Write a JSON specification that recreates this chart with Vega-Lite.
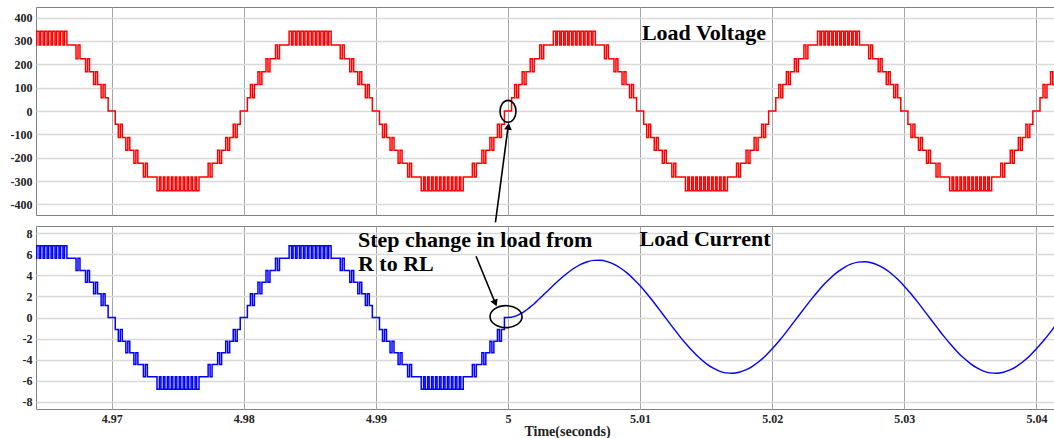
{
"$schema": "https://vega.github.io/schema/vega-lite/v6.json",
"background": "white",
"padding": {"left": 5, "top": 6, "right": 0, "bottom": 0},
"spacing": 11,
"bounds": "flush",
"config": {"view": {"stroke": "#808080", "strokeWidth": 1}, "font": "Liberation Serif"},
"datasets": {
"V": [
{"t":4.96403,"v":341},{"t":4.96421,"v":282},{"t":4.96433,"v":341},{"t":4.96451,"v":282},{"t":4.96463,"v":341},{"t":4.96481,"v":282},{"t":4.96493,"v":341},{"t":4.96511,"v":282},{"t":4.96523,"v":341},{"t":4.96541,"v":282},{"t":4.96553,"v":341},{"t":4.96571,"v":282},{"t":4.96583,"v":341},{"t":4.96601,"v":282},{"t":4.96613,"v":341},{"t":4.96631,"v":282},{"t":4.96643,"v":341},{"t":4.96661,"v":282},{"t":4.9673,"v":224},{"t":4.96745,"v":282},{"t":4.9676,"v":224},{"t":4.96802,"v":168},{"t":4.96817,"v":224},{"t":4.96832,"v":168},{"t":4.96863,"v":113},{"t":4.96878,"v":168},{"t":4.96893,"v":113},{"t":4.9692,"v":57},{"t":4.96935,"v":113},{"t":4.9695,"v":57},{"t":4.96973,"v":0},
{"t":4.97027,"v":-57},{"t":4.9705,"v":-113},{"t":4.97065,"v":-57},{"t":4.9708,"v":-113},{"t":4.97107,"v":-168},{"t":4.97122,"v":-113},{"t":4.97137,"v":-168},{"t":4.97168,"v":-224},{"t":4.97183,"v":-168},{"t":4.97198,"v":-224},{"t":4.9724,"v":-282},{"t":4.97255,"v":-224},{"t":4.9727,"v":-282},{"t":4.97343,"v":-341},{"t":4.97361,"v":-282},{"t":4.97373,"v":-341},{"t":4.97391,"v":-282},{"t":4.97403,"v":-341},{"t":4.97421,"v":-282},{"t":4.97433,"v":-341},{"t":4.97451,"v":-282},{"t":4.97463,"v":-341},{"t":4.97481,"v":-282},{"t":4.97493,"v":-341},{"t":4.97511,"v":-282},{"t":4.97523,"v":-341},{"t":4.97541,"v":-282},{"t":4.97553,"v":-341},{"t":4.97571,"v":-282},{"t":4.97583,"v":-341},{"t":4.97601,"v":-282},{"t":4.97613,"v":-341},{"t":4.97631,"v":-282},{"t":4.97643,"v":-341},{"t":4.97661,"v":-282},{"t":4.9773,"v":-224},{"t":4.97745,"v":-282},{"t":4.9776,"v":-224},{"t":4.97802,"v":-168},{"t":4.97817,"v":-224},{"t":4.97832,"v":-168},{"t":4.97863,"v":-113},{"t":4.97878,"v":-168},{"t":4.97893,"v":-113},{"t":4.9792,"v":-57},{"t":4.97935,"v":-113},{"t":4.9795,"v":-57},{"t":4.97973,"v":0},
{"t":4.98027,"v":57},{"t":4.9805,"v":113},{"t":4.98065,"v":57},{"t":4.9808,"v":113},{"t":4.98107,"v":168},{"t":4.98122,"v":113},{"t":4.98137,"v":168},{"t":4.98168,"v":224},{"t":4.98183,"v":168},{"t":4.98198,"v":224},{"t":4.9824,"v":282},{"t":4.98255,"v":224},{"t":4.9827,"v":282},{"t":4.98343,"v":341},{"t":4.98361,"v":282},{"t":4.98373,"v":341},{"t":4.98391,"v":282},{"t":4.98403,"v":341},{"t":4.98421,"v":282},{"t":4.98433,"v":341},{"t":4.98451,"v":282},{"t":4.98463,"v":341},{"t":4.98481,"v":282},{"t":4.98493,"v":341},{"t":4.98511,"v":282},{"t":4.98523,"v":341},{"t":4.98541,"v":282},{"t":4.98553,"v":341},{"t":4.98571,"v":282},{"t":4.98583,"v":341},{"t":4.98601,"v":282},{"t":4.98613,"v":341},{"t":4.98631,"v":282},{"t":4.98643,"v":341},{"t":4.98661,"v":282},{"t":4.9873,"v":224},{"t":4.98745,"v":282},{"t":4.9876,"v":224},{"t":4.98802,"v":168},{"t":4.98817,"v":224},{"t":4.98832,"v":168},{"t":4.98863,"v":113},{"t":4.98878,"v":168},{"t":4.98893,"v":113},{"t":4.9892,"v":57},{"t":4.98935,"v":113},{"t":4.9895,"v":57},{"t":4.98973,"v":0},
{"t":4.99027,"v":-57},{"t":4.9905,"v":-113},{"t":4.99065,"v":-57},{"t":4.9908,"v":-113},{"t":4.99107,"v":-168},{"t":4.99122,"v":-113},{"t":4.99137,"v":-168},{"t":4.99168,"v":-224},{"t":4.99183,"v":-168},{"t":4.99198,"v":-224},{"t":4.9924,"v":-282},{"t":4.99255,"v":-224},{"t":4.9927,"v":-282},{"t":4.99343,"v":-341},{"t":4.99361,"v":-282},{"t":4.99373,"v":-341},{"t":4.99391,"v":-282},{"t":4.99403,"v":-341},{"t":4.99421,"v":-282},{"t":4.99433,"v":-341},{"t":4.99451,"v":-282},{"t":4.99463,"v":-341},{"t":4.99481,"v":-282},{"t":4.99493,"v":-341},{"t":4.99511,"v":-282},{"t":4.99523,"v":-341},{"t":4.99541,"v":-282},{"t":4.99553,"v":-341},{"t":4.99571,"v":-282},{"t":4.99583,"v":-341},{"t":4.99601,"v":-282},{"t":4.99613,"v":-341},{"t":4.99631,"v":-282},{"t":4.99643,"v":-341},{"t":4.99661,"v":-282},{"t":4.9973,"v":-224},{"t":4.99745,"v":-282},{"t":4.9976,"v":-224},{"t":4.99802,"v":-168},{"t":4.99817,"v":-224},{"t":4.99832,"v":-168},{"t":4.99863,"v":-113},{"t":4.99878,"v":-168},{"t":4.99893,"v":-113},{"t":4.9992,"v":-57},{"t":4.99935,"v":-113},{"t":4.9995,"v":-57},{"t":4.99973,"v":0},
{"t":5.00027,"v":57},{"t":5.0005,"v":113},{"t":5.00065,"v":57},{"t":5.0008,"v":113},{"t":5.00107,"v":168},{"t":5.00122,"v":113},{"t":5.00137,"v":168},{"t":5.00168,"v":224},{"t":5.00183,"v":168},{"t":5.00198,"v":224},{"t":5.0024,"v":282},{"t":5.00255,"v":224},{"t":5.0027,"v":282},{"t":5.00343,"v":341},{"t":5.00361,"v":282},{"t":5.00373,"v":341},{"t":5.00391,"v":282},{"t":5.00403,"v":341},{"t":5.00421,"v":282},{"t":5.00433,"v":341},{"t":5.00451,"v":282},{"t":5.00463,"v":341},{"t":5.00481,"v":282},{"t":5.00493,"v":341},{"t":5.00511,"v":282},{"t":5.00523,"v":341},{"t":5.00541,"v":282},{"t":5.00553,"v":341},{"t":5.00571,"v":282},{"t":5.00583,"v":341},{"t":5.00601,"v":282},{"t":5.00613,"v":341},{"t":5.00631,"v":282},{"t":5.00643,"v":341},{"t":5.00661,"v":282},{"t":5.0073,"v":224},{"t":5.00745,"v":282},{"t":5.0076,"v":224},{"t":5.00802,"v":168},{"t":5.00817,"v":224},{"t":5.00832,"v":168},{"t":5.00863,"v":113},{"t":5.00878,"v":168},{"t":5.00893,"v":113},{"t":5.0092,"v":57},{"t":5.00935,"v":113},{"t":5.0095,"v":57},{"t":5.00973,"v":0},
{"t":5.01027,"v":-57},{"t":5.0105,"v":-113},{"t":5.01065,"v":-57},{"t":5.0108,"v":-113},{"t":5.01107,"v":-168},{"t":5.01122,"v":-113},{"t":5.01137,"v":-168},{"t":5.01168,"v":-224},{"t":5.01183,"v":-168},{"t":5.01198,"v":-224},{"t":5.0124,"v":-282},{"t":5.01255,"v":-224},{"t":5.0127,"v":-282},{"t":5.01343,"v":-341},{"t":5.01361,"v":-282},{"t":5.01373,"v":-341},{"t":5.01391,"v":-282},{"t":5.01403,"v":-341},{"t":5.01421,"v":-282},{"t":5.01433,"v":-341},{"t":5.01451,"v":-282},{"t":5.01463,"v":-341},{"t":5.01481,"v":-282},{"t":5.01493,"v":-341},{"t":5.01511,"v":-282},{"t":5.01523,"v":-341},{"t":5.01541,"v":-282},{"t":5.01553,"v":-341},{"t":5.01571,"v":-282},{"t":5.01583,"v":-341},{"t":5.01601,"v":-282},{"t":5.01613,"v":-341},{"t":5.01631,"v":-282},{"t":5.01643,"v":-341},{"t":5.01661,"v":-282},{"t":5.0173,"v":-224},{"t":5.01745,"v":-282},{"t":5.0176,"v":-224},{"t":5.01802,"v":-168},{"t":5.01817,"v":-224},{"t":5.01832,"v":-168},{"t":5.01863,"v":-113},{"t":5.01878,"v":-168},{"t":5.01893,"v":-113},{"t":5.0192,"v":-57},{"t":5.01935,"v":-113},{"t":5.0195,"v":-57},{"t":5.01973,"v":0},
{"t":5.02027,"v":57},{"t":5.0205,"v":113},{"t":5.02065,"v":57},{"t":5.0208,"v":113},{"t":5.02107,"v":168},{"t":5.02122,"v":113},{"t":5.02137,"v":168},{"t":5.02168,"v":224},{"t":5.02183,"v":168},{"t":5.02198,"v":224},{"t":5.0224,"v":282},{"t":5.02255,"v":224},{"t":5.0227,"v":282},{"t":5.02343,"v":341},{"t":5.02361,"v":282},{"t":5.02373,"v":341},{"t":5.02391,"v":282},{"t":5.02403,"v":341},{"t":5.02421,"v":282},{"t":5.02433,"v":341},{"t":5.02451,"v":282},{"t":5.02463,"v":341},{"t":5.02481,"v":282},{"t":5.02493,"v":341},{"t":5.02511,"v":282},{"t":5.02523,"v":341},{"t":5.02541,"v":282},{"t":5.02553,"v":341},{"t":5.02571,"v":282},{"t":5.02583,"v":341},{"t":5.02601,"v":282},{"t":5.02613,"v":341},{"t":5.02631,"v":282},{"t":5.02643,"v":341},{"t":5.02661,"v":282},{"t":5.0273,"v":224},{"t":5.02745,"v":282},{"t":5.0276,"v":224},{"t":5.02802,"v":168},{"t":5.02817,"v":224},{"t":5.02832,"v":168},{"t":5.02863,"v":113},{"t":5.02878,"v":168},{"t":5.02893,"v":113},{"t":5.0292,"v":57},{"t":5.02935,"v":113},{"t":5.0295,"v":57},{"t":5.02973,"v":0},
{"t":5.03027,"v":-57},{"t":5.0305,"v":-113},{"t":5.03065,"v":-57},{"t":5.0308,"v":-113},{"t":5.03107,"v":-168},{"t":5.03122,"v":-113},{"t":5.03137,"v":-168},{"t":5.03168,"v":-224},{"t":5.03183,"v":-168},{"t":5.03198,"v":-224},{"t":5.0324,"v":-282},{"t":5.03255,"v":-224},{"t":5.0327,"v":-282},{"t":5.03343,"v":-341},{"t":5.03361,"v":-282},{"t":5.03373,"v":-341},{"t":5.03391,"v":-282},{"t":5.03403,"v":-341},{"t":5.03421,"v":-282},{"t":5.03433,"v":-341},{"t":5.03451,"v":-282},{"t":5.03463,"v":-341},{"t":5.03481,"v":-282},{"t":5.03493,"v":-341},{"t":5.03511,"v":-282},{"t":5.03523,"v":-341},{"t":5.03541,"v":-282},{"t":5.03553,"v":-341},{"t":5.03571,"v":-282},{"t":5.03583,"v":-341},{"t":5.03601,"v":-282},{"t":5.03613,"v":-341},{"t":5.03631,"v":-282},{"t":5.03643,"v":-341},{"t":5.03661,"v":-282},{"t":5.0373,"v":-224},{"t":5.03745,"v":-282},{"t":5.0376,"v":-224},{"t":5.03802,"v":-168},{"t":5.03817,"v":-224},{"t":5.03832,"v":-168},{"t":5.03863,"v":-113},{"t":5.03878,"v":-168},{"t":5.03893,"v":-113},{"t":5.0392,"v":-57},{"t":5.03935,"v":-113},{"t":5.0395,"v":-57},{"t":5.03973,"v":0},
{"t":5.04027,"v":57},{"t":5.0405,"v":113},{"t":5.04065,"v":57},{"t":5.0408,"v":113},{"t":5.04107,"v":168},{"t":5.04122,"v":113},{"t":5.04137,"v":168},{"t":5.04168,"v":224}
],
"I": [
{"t":4.96403,"v":6.82},{"t":4.96421,"v":5.64},{"t":4.96433,"v":6.82},{"t":4.96451,"v":5.64},{"t":4.96463,"v":6.82},{"t":4.96481,"v":5.64},{"t":4.96493,"v":6.82},{"t":4.96511,"v":5.64},{"t":4.96523,"v":6.82},{"t":4.96541,"v":5.64},{"t":4.96553,"v":6.82},{"t":4.96571,"v":5.64},{"t":4.96583,"v":6.82},{"t":4.96601,"v":5.64},{"t":4.96613,"v":6.82},{"t":4.96631,"v":5.64},{"t":4.96643,"v":6.82},{"t":4.96661,"v":5.64},{"t":4.9673,"v":4.48},{"t":4.96745,"v":5.64},{"t":4.9676,"v":4.48},{"t":4.96802,"v":3.36},{"t":4.96817,"v":4.48},{"t":4.96832,"v":3.36},{"t":4.96863,"v":2.26},{"t":4.96878,"v":3.36},{"t":4.96893,"v":2.26},{"t":4.9692,"v":1.14},{"t":4.96935,"v":2.26},{"t":4.9695,"v":1.14},{"t":4.96973,"v":0},
{"t":4.97027,"v":-1.14},{"t":4.9705,"v":-2.26},{"t":4.97065,"v":-1.14},{"t":4.9708,"v":-2.26},{"t":4.97107,"v":-3.36},{"t":4.97122,"v":-2.26},{"t":4.97137,"v":-3.36},{"t":4.97168,"v":-4.48},{"t":4.97183,"v":-3.36},{"t":4.97198,"v":-4.48},{"t":4.9724,"v":-5.64},{"t":4.97255,"v":-4.48},{"t":4.9727,"v":-5.64},{"t":4.97343,"v":-6.82},{"t":4.97361,"v":-5.64},{"t":4.97373,"v":-6.82},{"t":4.97391,"v":-5.64},{"t":4.97403,"v":-6.82},{"t":4.97421,"v":-5.64},{"t":4.97433,"v":-6.82},{"t":4.97451,"v":-5.64},{"t":4.97463,"v":-6.82},{"t":4.97481,"v":-5.64},{"t":4.97493,"v":-6.82},{"t":4.97511,"v":-5.64},{"t":4.97523,"v":-6.82},{"t":4.97541,"v":-5.64},{"t":4.97553,"v":-6.82},{"t":4.97571,"v":-5.64},{"t":4.97583,"v":-6.82},{"t":4.97601,"v":-5.64},{"t":4.97613,"v":-6.82},{"t":4.97631,"v":-5.64},{"t":4.97643,"v":-6.82},{"t":4.97661,"v":-5.64},{"t":4.9773,"v":-4.48},{"t":4.97745,"v":-5.64},{"t":4.9776,"v":-4.48},{"t":4.97802,"v":-3.36},{"t":4.97817,"v":-4.48},{"t":4.97832,"v":-3.36},{"t":4.97863,"v":-2.26},{"t":4.97878,"v":-3.36},{"t":4.97893,"v":-2.26},{"t":4.9792,"v":-1.14},{"t":4.97935,"v":-2.26},{"t":4.9795,"v":-1.14},{"t":4.97973,"v":0},
{"t":4.98027,"v":1.14},{"t":4.9805,"v":2.26},{"t":4.98065,"v":1.14},{"t":4.9808,"v":2.26},{"t":4.98107,"v":3.36},{"t":4.98122,"v":2.26},{"t":4.98137,"v":3.36},{"t":4.98168,"v":4.48},{"t":4.98183,"v":3.36},{"t":4.98198,"v":4.48},{"t":4.9824,"v":5.64},{"t":4.98255,"v":4.48},{"t":4.9827,"v":5.64},{"t":4.98343,"v":6.82},{"t":4.98361,"v":5.64},{"t":4.98373,"v":6.82},{"t":4.98391,"v":5.64},{"t":4.98403,"v":6.82},{"t":4.98421,"v":5.64},{"t":4.98433,"v":6.82},{"t":4.98451,"v":5.64},{"t":4.98463,"v":6.82},{"t":4.98481,"v":5.64},{"t":4.98493,"v":6.82},{"t":4.98511,"v":5.64},{"t":4.98523,"v":6.82},{"t":4.98541,"v":5.64},{"t":4.98553,"v":6.82},{"t":4.98571,"v":5.64},{"t":4.98583,"v":6.82},{"t":4.98601,"v":5.64},{"t":4.98613,"v":6.82},{"t":4.98631,"v":5.64},{"t":4.98643,"v":6.82},{"t":4.98661,"v":5.64},{"t":4.9873,"v":4.48},{"t":4.98745,"v":5.64},{"t":4.9876,"v":4.48},{"t":4.98802,"v":3.36},{"t":4.98817,"v":4.48},{"t":4.98832,"v":3.36},{"t":4.98863,"v":2.26},{"t":4.98878,"v":3.36},{"t":4.98893,"v":2.26},{"t":4.9892,"v":1.14},{"t":4.98935,"v":2.26},{"t":4.9895,"v":1.14},{"t":4.98973,"v":0},
{"t":4.99027,"v":-1.14},{"t":4.9905,"v":-2.26},{"t":4.99065,"v":-1.14},{"t":4.9908,"v":-2.26},{"t":4.99107,"v":-3.36},{"t":4.99122,"v":-2.26},{"t":4.99137,"v":-3.36},{"t":4.99168,"v":-4.48},{"t":4.99183,"v":-3.36},{"t":4.99198,"v":-4.48},{"t":4.9924,"v":-5.64},{"t":4.99255,"v":-4.48},{"t":4.9927,"v":-5.64},{"t":4.99343,"v":-6.82},{"t":4.99361,"v":-5.64},{"t":4.99373,"v":-6.82},{"t":4.99391,"v":-5.64},{"t":4.99403,"v":-6.82},{"t":4.99421,"v":-5.64},{"t":4.99433,"v":-6.82},{"t":4.99451,"v":-5.64},{"t":4.99463,"v":-6.82},{"t":4.99481,"v":-5.64},{"t":4.99493,"v":-6.82},{"t":4.99511,"v":-5.64},{"t":4.99523,"v":-6.82},{"t":4.99541,"v":-5.64},{"t":4.99553,"v":-6.82},{"t":4.99571,"v":-5.64},{"t":4.99583,"v":-6.82},{"t":4.99601,"v":-5.64},{"t":4.99613,"v":-6.82},{"t":4.99631,"v":-5.64},{"t":4.99643,"v":-6.82},{"t":4.99661,"v":-5.64},{"t":4.9973,"v":-4.48},{"t":4.99745,"v":-5.64},{"t":4.9976,"v":-4.48},{"t":4.99802,"v":-3.36},{"t":4.99817,"v":-4.48},{"t":4.99832,"v":-3.36},{"t":4.99863,"v":-2.26},{"t":4.99878,"v":-3.36},{"t":4.99893,"v":-2.26},{"t":4.9992,"v":-1.14},{"t":4.99935,"v":-2.26},{"t":4.9995,"v":-1.14},{"t":4.99973,"v":0},{"t":5.0,"v":0}
],
"S": [
{"t":5.0,"v":0},{"t":5.00025,"v":0.02},{"t":5.0005,"v":0.1},{"t":5.00075,"v":0.22},{"t":5.001,"v":0.39},{"t":5.00125,"v":0.59},{"t":5.0015,"v":0.81},{"t":5.00175,"v":1.07},{"t":5.002,"v":1.34},{"t":5.00225,"v":1.63},{"t":5.0025,"v":1.92},{"t":5.00275,"v":2.23},{"t":5.003,"v":2.53},{"t":5.0035,"v":3.14},{"t":5.004,"v":3.71},{"t":5.0045,"v":4.23},{"t":5.005,"v":4.68},{"t":5.0055,"v":5.05},{"t":5.006,"v":5.3},{"t":5.0065,"v":5.43},{"t":5.007,"v":5.44},{"t":5.0075,"v":5.32},{"t":5.008,"v":5.07},{"t":5.0085,"v":4.71},{"t":5.009,"v":4.24},{"t":5.0095,"v":3.67},{"t":5.01,"v":3.01},{"t":5.0105,"v":2.28},{"t":5.011,"v":1.5},{"t":5.0115,"v":0.68},{"t":5.012,"v":-0.16},{"t":5.0125,"v":-0.98},{"t":5.013,"v":-1.79},{"t":5.0135,"v":-2.55},{"t":5.014,"v":-3.24},{"t":5.0145,"v":-3.86},{"t":5.015,"v":-4.38},{"t":5.0155,"v":-4.79},{"t":5.016,"v":-5.09},{"t":5.0165,"v":-5.26},{"t":5.017,"v":-5.3},{"t":5.0175,"v":-5.21},{"t":5.018,"v":-4.99},{"t":5.0185,"v":-4.64},{"t":5.019,"v":-4.19},{"t":5.0195,"v":-3.63},{"t":5.02,"v":-2.98},{"t":5.0205,"v":-2.26},{"t":5.021,"v":-1.48},{"t":5.0215,"v":-0.66},{"t":5.022,"v":0.17},{"t":5.0225,"v":0.99},{"t":5.023,"v":1.8},{"t":5.0235,"v":2.55},{"t":5.024,"v":3.25},{"t":5.0245,"v":3.86},{"t":5.025,"v":4.38},{"t":5.0255,"v":4.8},{"t":5.026,"v":5.09},{"t":5.0265,"v":5.26},{"t":5.027,"v":5.3},{"t":5.0275,"v":5.21},{"t":5.028,"v":4.99},{"t":5.0285,"v":4.64},{"t":5.029,"v":4.19},{"t":5.0295,"v":3.63},{"t":5.03,"v":2.98},{"t":5.0305,"v":2.26},{"t":5.031,"v":1.48},{"t":5.0315,"v":0.66},{"t":5.032,"v":-0.17},{"t":5.0325,"v":-0.99},{"t":5.033,"v":-1.8},{"t":5.0335,"v":-2.55},{"t":5.034,"v":-3.25},{"t":5.0345,"v":-3.86},{"t":5.035,"v":-4.38},{"t":5.0355,"v":-4.8},{"t":5.036,"v":-5.09},{"t":5.0365,"v":-5.26},{"t":5.037,"v":-5.3},{"t":5.0375,"v":-5.21},{"t":5.038,"v":-4.99},{"t":5.0385,"v":-4.64},{"t":5.039,"v":-4.19},{"t":5.0395,"v":-3.63},{"t":5.04,"v":-2.98},{"t":5.0405,"v":-2.26},{"t":5.041,"v":-1.48},{"t":5.0415,"v":-0.66}
]
},
"vconcat": [
{
"width": 1018, "height": 208,
"layer": [
{"data": {"name": "V"},
 "mark": {"type": "line", "interpolate": "step-after", "color": "#ff0000", "strokeWidth": 1.5, "clip": true},
 "encoding": {
  "x": {"field": "t", "type": "quantitative", "scale": {"domain": [4.96427, 5.04133], "nice": false, "zero": false},
        "axis": {"values": [4.97,4.98,4.99,5,5.01,5.02,5.03,5.04], "tickCount": 20, "labels": false, "ticks": false, "domain": false, "title": null, "grid": true, "gridColor": "#a6a6a6", "gridWidth": 1, "minExtent": 0, "maxExtent": 0}},
  "y": {"field": "v", "type": "quantitative", "scale": {"domain": [-445, 445], "nice": false, "zero": false},
        "axis": {"values": [-400,-300,-200,-100,0,100,200,300,400], "tickCount": 20, "labelExpr": "'' + datum.value", "labelOverlap": false, "ticks": false, "domain": false, "title": null, "grid": true, "gridColor": "#d9d9d9", "gridWidth": 1.5, "labelPadding": 4, "minExtent": 30, "maxExtent": 30, "labelFont": "Liberation Serif", "labelFontWeight": "bold", "labelFontSize": 12, "labelColor": "#222222"}}
 }},
{"data": {"values": [{"t": 5.01483, "v": 332.7, "txt": "Load Voltage"}]},
 "mark": {"type": "text", "font": "Liberation Serif", "fontWeight": "bold", "fontSize": 22, "align": "center", "baseline": "middle", "color": "#000000"},
 "encoding": {"x": {"field": "t", "type": "quantitative"}, "y": {"field": "v", "type": "quantitative"}, "text": {"field": "txt", "type": "nominal"}}},
{"data": {"values": [{"t": 5.0, "v": -1.5}]},
 "mark": {"type": "point", "shape": "M -0.727 0 A 0.727 1 0 1 0 0.727 0 A 0.727 1 0 1 0 -0.727 0", "size": 484, "filled": false, "color": "#000000", "strokeWidth": 1.6, "opacity": 1, "clip": false},
 "encoding": {"x": {"field": "t", "type": "quantitative"}, "y": {"field": "v", "type": "quantitative"}}},
{"data": {"values": [{"t": 4.99905, "v": -477, "t2": 5.00002, "v2": -61.5}]},
 "mark": {"type": "rule", "color": "#000000", "strokeWidth": 1.6, "clip": false},
 "encoding": {"x": {"field": "t", "type": "quantitative"}, "y": {"field": "v", "type": "quantitative"}, "x2": {"field": "t2"}, "y2": {"field": "v2"}}},
{"data": {"values": [{"t": 5.00003, "v": -65.7}]},
 "mark": {"type": "point", "shape": "triangle-up", "angle": 7, "size": 60, "filled": true, "color": "#000000", "opacity": 1, "clip": false},
 "encoding": {"x": {"field": "t", "type": "quantitative"}, "y": {"field": "v", "type": "quantitative"}}}
]
},
{
"width": 1018, "height": 183,
"layer": [
{"data": {"name": "I"},
 "mark": {"type": "line", "interpolate": "step-after", "color": "#0000ff", "strokeWidth": 1.5, "clip": true},
 "encoding": {
  "x": {"field": "t", "type": "quantitative", "scale": {"domain": [4.96427, 5.04133], "nice": false, "zero": false},
        "axis": {"values": [4.97,4.98,4.99,5,5.01,5.02,5.03,5.04], "tickCount": 20, "labelExpr": "'' + datum.value", "labelOverlap": false, "ticks": false, "domain": false, "grid": true, "gridColor": "#a6a6a6", "gridWidth": 1, "labelPadding": 4, "labelFont": "Liberation Serif", "labelFontWeight": "bold", "labelFontSize": 12, "labelColor": "#222222",
                 "title": "Time(seconds)", "titleFont": "Liberation Serif", "titleFontWeight": "bold", "titleFontSize": 14, "titleColor": "#222222", "titleX": 531, "titleY": 22, "titleBaseline": "middle", "titleAlign": "center"}},
  "y": {"field": "v", "type": "quantitative", "scale": {"domain": [-8.7, 8.7], "nice": false, "zero": false},
        "axis": {"values": [-8,-6,-4,-2,0,2,4,6,8], "tickCount": 20, "labelExpr": "'' + datum.value", "labelOverlap": false, "ticks": false, "domain": false, "title": null, "grid": true, "gridColor": "#d9d9d9", "gridWidth": 1.5, "labelPadding": 4, "minExtent": 30, "maxExtent": 30, "labelFont": "Liberation Serif", "labelFontWeight": "bold", "labelFontSize": 12, "labelColor": "#222222"}}
 }},
{"data": {"name": "S"},
 "mark": {"type": "line", "interpolate": "monotone", "color": "#0000ff", "strokeWidth": 1.4, "clip": true},
 "encoding": {"x": {"field": "t", "type": "quantitative"}, "y": {"field": "v", "type": "quantitative"}}},
{"data": {"values": [{"t": 5.01491, "v": 7.43, "txt": "Load Current"}]},
 "mark": {"type": "text", "font": "Liberation Serif", "fontWeight": "bold", "fontSize": 22, "align": "center", "baseline": "middle", "color": "#000000"},
 "encoding": {"x": {"field": "t", "type": "quantitative"}, "y": {"field": "v", "type": "quantitative"}, "text": {"field": "txt", "type": "nominal"}}},
{"data": {"values": [{"t": 4.98864, "v": 7.33, "txt": "Step change in load from"}, {"t": 4.98864, "v": 5.04, "txt": "R to RL"}]},
 "mark": {"type": "text", "font": "Liberation Serif", "fontWeight": "bold", "fontSize": 22, "align": "left", "baseline": "middle", "color": "#000000"},
 "encoding": {"x": {"field": "t", "type": "quantitative"}, "y": {"field": "v", "type": "quantitative"}, "text": {"field": "txt", "type": "nominal"}}},
{"data": {"values": [{"t": 4.99985, "v": 0.08}]},
 "mark": {"type": "point", "shape": "M -1 0 A 1 0.6875 0 1 0 1 0 A 1 0.6875 0 1 0 -1 0", "size": 1024, "filled": false, "color": "#000000", "strokeWidth": 1.6, "opacity": 1, "clip": false},
 "encoding": {"x": {"field": "t", "type": "quantitative"}, "y": {"field": "v", "type": "quantitative"}}},
{"data": {"values": [{"t": 4.99758, "v": 5.83, "t2": 4.99904, "v2": 1.36}]},
 "mark": {"type": "rule", "color": "#000000", "strokeWidth": 1.6, "clip": false},
 "encoding": {"x": {"field": "t", "type": "quantitative"}, "y": {"field": "v", "type": "quantitative"}, "x2": {"field": "t2"}, "y2": {"field": "v2"}}},
{"data": {"values": [{"t": 4.99904, "v": 1.36}]},
 "mark": {"type": "point", "shape": "triangle-down", "angle": -23, "size": 60, "filled": true, "color": "#000000", "opacity": 1, "clip": false},
 "encoding": {"x": {"field": "t", "type": "quantitative"}, "y": {"field": "v", "type": "quantitative"}}}
]
}
]
}
